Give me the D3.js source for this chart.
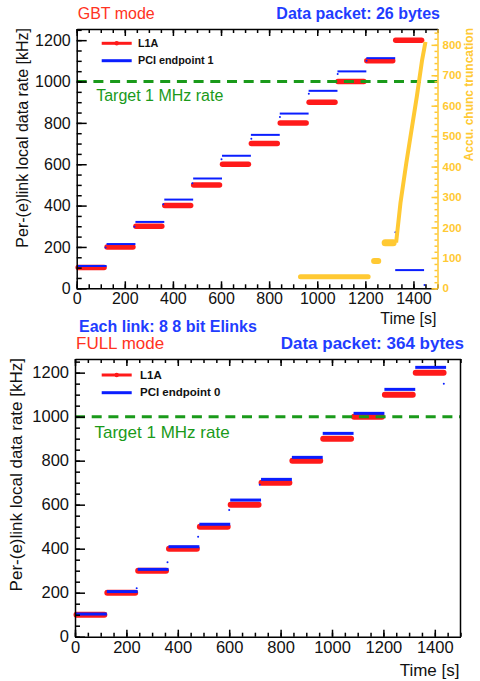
<!DOCTYPE html>
<html>
<head>
<meta charset="utf-8">
<script src="https://cdn.jsdelivr.net/npm/d3@7"></script>
<style>
  body { margin: 0; background: #fff; }
  svg { display: block; font-family: "Liberation Sans", Arial, Helvetica, sans-serif; }
</style>
</head>
<body>
<div id="container"></div>
<script>
// step boundaries [s]
let stepT0 = [0, 120, 240, 360, 480, 600, 720, 840, 960, 1080, 1200, 1320],
  stepT1 = [120, 240, 360, 480, 600, 720, 840, 960, 1080, 1200, 1320, 1440]

// L1A rate [kHz], same in both modes
let l1aRate = [100, 200, 300, 400, 500, 600, 700, 800, 900, 1000, 1100, 1200]

// GBT mode, PCI endpoint 1
let gbtPciRate = [108, 214, 321, 429, 531, 641, 742, 845, 955, 1049, 1113, 88]
let gbtDotT = [120, 240, 360, 481, 602, 726, 845, 965, 1085, 1205, 1325, 1446],
  gbtDotV = [197, 298, 407, 508, 624, 723, 828, 941, 1036, 1101, 271, 16]

// GBT mode, accumulated chunk truncation (right axis)
let truncT0 = [920, 1226, 1272],
  truncT1 = [1222, 1264, 1326],
  truncVal = [38, 90, 150]
let truncRiseT = [1328, 1346, 1370, 1392, 1414, 1436, 1450],
  truncRiseV = [150, 280, 410, 520, 630, 750, 810]

// FULL mode, PCI endpoint 0
let fullPciRate = [103, 205, 306, 409, 511, 621, 715, 815, 924, 1015, 1124, 1224]
let fullDotT = [240, 360, 479, 600, 719, 1435],
  fullDotV = [220, 338, 454, 576, 690, 1150]

let targetRate = 1000
let xTicks = [0, 200, 400, 600, 800, 1000, 1200, 1400],
  yTicks = [0, 200, 400, 600, 800, 1000, 1200],
  y2Ticks = [0, 100, 200, 300, 400, 500, 600, 700, 800]

let red = '#ff1a1a', blue = '#0a1eff', green = '#1a9a1a', yellow = '#ffc933',
  titleRed = '#ff3322', titleBlue = '#1f3dff'

let svg = d3.select('#container')
  .append('svg')
  .attr('width', 480)
  .attr('height', 681)

let fmt = d3.format('d')

function drawPanel(p) {
  let x = d3.scaleLinear().domain([0, 1500]).range([p.left, p.right])
  let y = d3.scaleLinear().domain([0, p.yMax]).range([p.bottom, p.top])
  let g = svg.append('g')

  // L1A steps
  g.selectAll('.l1a')
    .data(l1aRate).enter().append('line')
    .attr('x1', (d, i) => x(stepT0[i]) + 1.5)
    .attr('x2', (d, i) => x(stepT1[i]) - 1.5)
    .attr('y1', d => y(d)).attr('y2', d => y(d))
    .attr('stroke', red).attr('stroke-width', p.redW).attr('stroke-linecap', 'round')

  // PCI steps
  g.selectAll('.pci')
    .data(p.pci).enter().append('line')
    .attr('x1', (d, i) => x(stepT0[i]) + 1)
    .attr('x2', (d, i) => x(stepT1[i]) + 1)
    .attr('y1', d => y(d)).attr('y2', d => y(d))
    .attr('stroke', blue).attr('stroke-width', p.blueW)

  g.selectAll('.dot')
    .data(p.dotV).enter().append('circle')
    .attr('cx', (d, i) => x(p.dotT[i]))
    .attr('cy', d => y(d))
    .attr('r', 1).attr('fill', blue)

  // target line
  g.append('line')
    .attr('x1', x(0)).attr('x2', x(1500))
    .attr('y1', y(targetRate)).attr('y2', y(targetRate))
    .attr('stroke', green).attr('stroke-width', 3)
    .attr('stroke-dasharray', '10,6.7')

  g.append('text')
    .attr('x', p.left + 19.5).attr('y', p.targetY)
    .attr('font-size', p.fs).attr('fill', green)
    .text('Target 1 MHz rate')

  // axes
  let axisStyle = sel => {
    sel.selectAll('path, line').attr('stroke', '#000').attr('stroke-width', 1.5)
    sel.selectAll('text').attr('font-size', p.tickFs).attr('fill', '#111')
      .attr('font-family', '"Liberation Sans", Arial, sans-serif')
  }
  let minorX = d3.range(0, 1501, 50), minorY = d3.range(0, p.yMax, 50)

  g.append('g').attr('transform', 'translate(0,' + p.bottom + ')')
    .call(d3.axisBottom(x).tickValues(xTicks).tickFormat(fmt).tickSize(-7).tickSizeOuter(0).tickPadding(p.xPad))
    .call(axisStyle)
  g.append('g').attr('transform', 'translate(0,' + p.bottom + ')')
    .call(d3.axisBottom(x).tickValues(minorX).tickSize(-4).tickFormat(''))
    .call(axisStyle).select('.domain').remove()
  g.append('g').attr('transform', 'translate(0,' + p.top + ')')
    .call(d3.axisTop(x).tickValues(xTicks).tickSize(-7).tickSizeOuter(0).tickFormat(''))
    .call(axisStyle)
  g.append('g').attr('transform', 'translate(0,' + p.top + ')')
    .call(d3.axisTop(x).tickValues(minorX).tickSize(-4).tickFormat(''))
    .call(axisStyle).select('.domain').remove()

  g.append('g').attr('transform', 'translate(' + p.left + ',0)')
    .call(d3.axisLeft(y).tickValues(yTicks).tickFormat(fmt).tickSize(-10).tickSizeOuter(0).tickPadding(6))
    .call(axisStyle)
  g.append('g').attr('transform', 'translate(' + p.left + ',0)')
    .call(d3.axisLeft(y).tickValues(minorY).tickSize(-5).tickFormat(''))
    .call(axisStyle).select('.domain').remove()

  // titles
  g.append('text')
    .attr('transform', 'translate(' + p.yTitleX + ',' + (p.top - 1) + ') rotate(-90)')
    .attr('text-anchor', 'end').attr('font-size', p.fs).attr('fill', '#111')
    .text('Per-(e)link local data rate [kHz]')
  g.append('text')
    .attr('x', p.right - 1).attr('y', p.xTitleY)
    .attr('text-anchor', 'end').attr('font-size', p.fs).attr('fill', '#111')
    .text('Time [s]')
  g.append('text')
    .attr('x', p.left + 1).attr('y', p.top - 10)
    .attr('font-size', p.fs).attr('fill', titleRed)
    .text(p.mode)
  g.append('text')
    .attr('x', p.packetX).attr('y', p.top - 10)
    .attr('text-anchor', 'end').attr('font-size', p.fs).attr('font-weight', 'bold').attr('fill', titleBlue)
    .text(p.packet)

  // legend
  let lg = g.append('g')
  lg.append('line').attr('x1', 101.7).attr('x2', 131.7).attr('y1', p.legY).attr('y2', p.legY)
    .attr('stroke', red).attr('stroke-width', 3)
  lg.append('circle').attr('cx', 116.7).attr('cy', p.legY).attr('r', 2.2).attr('fill', red)
  lg.append('line').attr('x1', 101.7).attr('x2', 131.7).attr('y1', p.legY + p.legGap).attr('y2', p.legY + p.legGap)
    .attr('stroke', blue).attr('stroke-width', 3)
  lg.append('text').attr('x', p.legTextX).attr('y', p.legY + 3.6)
    .attr('font-size', p.legFs).attr('font-weight', 'bold').attr('fill', '#111').text('L1A')
  lg.append('text').attr('x', p.legTextX).attr('y', p.legY + p.legGap + 3.6)
    .attr('font-size', p.legFs).attr('font-weight', 'bold').attr('fill', '#111').text(p.pciName)

  return { g: g, x: x, y: y }
}

// GBT panel
let gbt = drawPanel({
  left: 76.7, right: 437.5, top: 29, bottom: 288.3, yMax: 1254,
  pci: gbtPciRate, dotT: gbtDotT, dotV: gbtDotV,
  redW: 5.5, blueW: 2, fs: 16, tickFs: 16, xPad: 4,
  targetY: 100.7, yTitleX: 28.3, xTitleY: 324,
  mode: 'GBT mode', packet: 'Data packet: 26 bytes', packetX: 440,
  legY: 43.3, legGap: 17.4, legTextX: 138, legFs: 10.8, pciName: 'PCI endpoint 1'
})

// right axis: truncations
let y2 = d3.scaleLinear().domain([0, 852]).range([288.3, 29])
let tg = gbt.g.append('g')
tg.selectAll('.flat')
  .data(truncVal).enter().append('line')
  .attr('x1', (d, i) => gbt.x(truncT0[i]) + 2.5)
  .attr('x2', (d, i) => gbt.x(truncT1[i]) - 2.5)
  .attr('y1', d => y2(d)).attr('y2', d => y2(d))
  .attr('stroke', yellow).attr('stroke-linecap', 'round')
  .attr('stroke-width', (d, i) => [5, 6, 7][i])
tg.append('path')
  .attr('d', d3.line().x((d, i) => gbt.x(truncRiseT[i])).y(d => y2(d))(truncRiseV))
  .attr('fill', 'none').attr('stroke', yellow).attr('stroke-width', 4)

let yellowStyle = sel => {
  sel.selectAll('path, line').attr('stroke', yellow).attr('stroke-width', 1.5)
  sel.selectAll('text').attr('font-size', 11.5).attr('font-weight', 'bold').attr('fill', yellow)
    .attr('font-family', '"Liberation Sans", Arial, sans-serif')
}
gbt.g.append('g').attr('transform', 'translate(437.5,0)')
  .call(d3.axisRight(y2).tickValues(y2Ticks).tickFormat(fmt).tickSize(-6).tickSizeOuter(0).tickPadding(5))
  .call(yellowStyle)
gbt.g.append('g').attr('transform', 'translate(437.5,0)')
  .call(d3.axisRight(y2).tickValues(d3.range(0, 852, 20)).tickSize(-3).tickFormat(''))
  .call(yellowStyle).select('.domain').remove()
gbt.g.append('text')
  .attr('transform', 'translate(473,28) rotate(-90)')
  .attr('text-anchor', 'end').attr('font-size', 12).attr('font-weight', 'bold').attr('fill', yellow)
  .text('Accu. chunc truncation')

svg.append('text')
  .attr('x', 79).attr('y', 331.7)
  .attr('font-size', 16).attr('font-weight', 'bold').attr('fill', titleBlue)
  .text('Each link: 8 8 bit Elinks')

// FULL panel
let full = drawPanel({
  left: 75, right: 460.5, top: 359, bottom: 636.7, yMax: 1262,
  pci: fullPciRate, dotT: fullDotT, dotV: fullDotV,
  redW: 6, blueW: 3, fs: 17, tickFs: 16.5, xPad: 5,
  targetY: 437.7, yTitleX: 21.7, xTitleY: 676,
  mode: 'FULL mode', packet: 'Data packet: 364 bytes', packetX: 464,
  legY: 375, legGap: 17.7, legTextX: 140, legFs: 11.5, pciName: 'PCI endpoint 0'
})
full.g.append('line')
  .attr('x1', 460.5).attr('x2', 460.5).attr('y1', 359).attr('y2', 636.7)
  .attr('stroke', '#000').attr('stroke-width', 1.5)
</script>
</body>
</html>
